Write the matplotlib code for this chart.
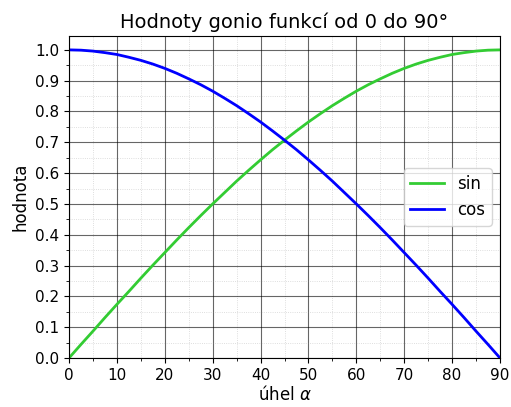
import matplotlib
matplotlib.use("Agg")
import matplotlib.pyplot as plt
from matplotlib.ticker import MultipleLocator

angles = [0, 2.5, 5, 7.5, 10, 12.5, 15, 17.5, 20, 22.5, 25, 27.5, 30, 32.5, 35, 37.5,
          40, 42.5, 45, 47.5, 50, 52.5, 55, 57.5, 60, 62.5, 65, 67.5, 70, 72.5, 75,
          77.5, 80, 82.5, 85, 87.5, 90]
sin_values = [0.0, 0.044, 0.087, 0.131, 0.174, 0.216, 0.259, 0.301, 0.342, 0.383,
              0.423, 0.462, 0.5, 0.537, 0.574, 0.609, 0.643, 0.676, 0.707, 0.737,
              0.766, 0.793, 0.819, 0.843, 0.866, 0.887, 0.906, 0.924, 0.940, 0.954,
              0.966, 0.976, 0.985, 0.991, 0.996, 0.999, 1.0]
cos_values = [1.0, 0.999, 0.996, 0.991, 0.985, 0.976, 0.966, 0.954, 0.940, 0.924,
              0.906, 0.887, 0.866, 0.843, 0.819, 0.793, 0.766, 0.737, 0.707, 0.676,
              0.643, 0.609, 0.574, 0.537, 0.5, 0.462, 0.423, 0.383, 0.342, 0.301,
              0.259, 0.216, 0.174, 0.131, 0.087, 0.044, 0.0]

fig = plt.figure(figsize=(5.11, 4.07), dpi=100)
ax = fig.add_axes([69/511, 1 - 358/407, (500-69)/511, (358-36)/407])
ax.plot(angles, sin_values, color='#33cc33', lw=2, label='sin')
ax.plot(angles, cos_values, color='blue', lw=2, label='cos')
ax.set_xlim(0, 90)
ax.set_ylim(0, 1.045)
ax.xaxis.set_major_locator(MultipleLocator(10))
ax.xaxis.set_minor_locator(MultipleLocator(5))
ax.yaxis.set_major_locator(MultipleLocator(0.1))
ax.yaxis.set_minor_locator(MultipleLocator(0.05))
ax.grid(which='major', color='black', lw=0.8, alpha=0.6)
ax.grid(which='minor', color='gray', lw=0.6, ls=':', alpha=0.35)
ax.tick_params(labelsize=11)
ax.set_title('Hodnoty gonio funkcí od 0 do 90°', fontsize=14)
ax.set_xlabel('úhel $\\alpha$', fontsize=12, labelpad=2)
ax.set_ylabel('hodnota', fontsize=12)
ax.legend(loc='center right', fontsize=12)
fig.savefig('out.png', dpi=100)
